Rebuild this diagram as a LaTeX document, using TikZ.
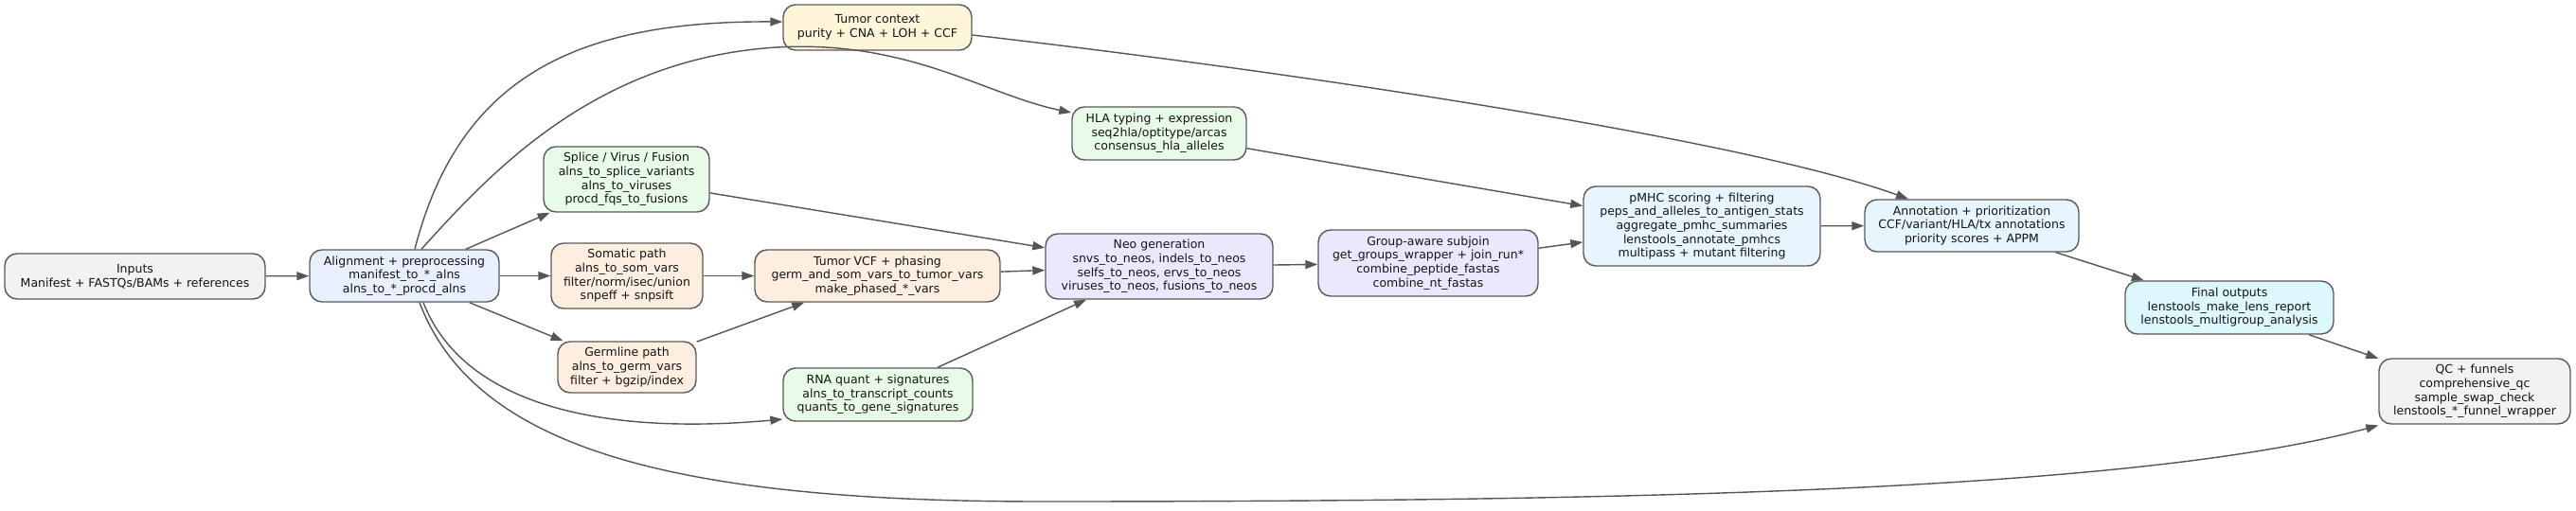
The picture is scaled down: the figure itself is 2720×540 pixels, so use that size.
\documentclass[tikz,border=0pt]{standalone}
\usepackage{fontspec}
\setmainfont{DejaVu Sans}
\usetikzlibrary{arrows.meta,calc}
\definecolor{edgec}{HTML}{555555}
\definecolor{boxborder}{HTML}{5A5A5A}
\definecolor{cgray}{HTML}{F2F2F2}
\definecolor{cblue}{HTML}{E8F0FF}
\definecolor{cgreen}{HTML}{E8FBE8}
\definecolor{cpeach}{HTML}{FDEEDF}
\definecolor{cyellow}{HTML}{FFF6DA}
\definecolor{cviolet}{HTML}{EDE7FD}
\definecolor{csky}{HTML}{E6F5FF}
\definecolor{ccyan}{HTML}{DCF8FD}
\begin{document}
\begin{tikzpicture}[x=1pt,y=-1pt,
  box/.style={draw=boxborder, line width=1.4pt, rounded corners=13pt, align=center,
    inner sep=2pt, font=\fontsize{12.5}{14.7}\selectfont, text=black!92},
  arr/.style={draw=edgec, line width=1.4pt, -{Triangle[length=13pt,width=9pt,fill=edgec]}},
]
\fill[white] (0,0) rectangle (2720,540);
\useasboundingbox (0,0) rectangle (2720,540);

\node[box, fill=cgray, minimum width=275pt, minimum height=48pt] (inputs) at (142.5,292)
  {Inputs\\Manifest + FASTQs/BAMs + references};
\node[box, fill=cblue, minimum width=200pt, minimum height=55pt] (align) at (427,291.5)
  {Alignment + preprocessing\\manifest\_to\_*\_alns\\alns\_to\_*\_procd\_alns};
\node[box, fill=cgreen, minimum width=175pt, minimum height=69pt] (splice) at (661.5,189.5)
  {Splice / Virus / Fusion\\alns\_to\_splice\_variants\\alns\_to\_viruses\\procd\_fqs\_to\_fusions};
\node[box, fill=cpeach, minimum width=160pt, minimum height=69pt] (som) at (662,291.5)
  {Somatic path\\alns\_to\_som\_vars\\filter/norm/isec/union\\snpeff + snpsift};
\node[box, fill=cpeach, minimum width=146pt, minimum height=54pt] (germ) at (662,388)
  {Germline path\\alns\_to\_germ\_vars\\filter + bgzip/index};
\node[box, fill=cyellow, minimum width=199pt, minimum height=48pt] (tctx) at (926.5,29)
  {Tumor context\\purity + CNA + LOH + CCF};
\node[box, fill=cpeach, minimum width=259pt, minimum height=55pt] (vcf) at (926.5,291.5)
  {Tumor VCF + phasing\\germ\_and\_som\_vars\_to\_tumor\_vars\\make\_phased\_*\_vars};
\node[box, fill=cgreen, minimum width=200pt, minimum height=56pt] (rna) at (927,417)
  {RNA quant + signatures\\alns\_to\_transcript\_counts\\quants\_to\_gene\_signatures};
\node[box, fill=cgreen, minimum width=184pt, minimum height=56pt] (hla) at (1224,141)
  {HLA typing + expression\\seq2hla/optitype/arcas\\consensus\_hla\_alleles};
\node[box, fill=cviolet, minimum width=240pt, minimum height=69pt] (neo) at (1224,281.5)
  {Neo generation\\snvs\_to\_neos, indels\_to\_neos\\selfs\_to\_neos, ervs\_to\_neos\\viruses\_to\_neos, fusions\_to\_neos};
\node[box, fill=cviolet, minimum width=232pt, minimum height=70pt] (grp) at (1508,278)
  {Group-aware subjoin\\get\_groups\_wrapper + join\_run*\\combine\_peptide\_fastas\\combine\_nt\_fastas};
\node[box, fill=csky, minimum width=250pt, minimum height=84pt] (pmhc) at (1797,239)
  {pMHC scoring + filtering\\peps\_and\_alleles\_to\_antigen\_stats\\aggregate\_pmhc\_summaries\\lenstools\_annotate\_pmhcs\\multipass + mutant filtering};
\node[box, fill=csky, minimum width=226pt, minimum height=55pt] (annot) at (2082,238.5)
  {Annotation + prioritization\\CCF/variant/HLA/tx annotations\\priority scores + APPM};
\node[box, fill=ccyan, minimum width=220pt, minimum height=56pt] (final) at (2354,325)
  {Final outputs\\lenstools\_make\_lens\_report\\lenstools\_multigroup\_analysis};
\node[box, fill=cgray, minimum width=202pt, minimum height=69pt] (qc) at (2613,413.5)
  {QC + funnels\\comprehensive\_qc\\sample\_swap\_check\\lenstools\_*\_funnel\_wrapper};

% straight connectors
\draw[arr] (inputs) -- (align);
\draw[arr] (align) -- (splice);
\draw[arr] (align) -- (som);
\draw[arr] (align) -- (germ);
\draw[arr] (splice) -- (neo);
\draw[arr] (som) -- (vcf);
\draw[arr] (germ) -- (vcf);
\draw[arr] (vcf) -- (neo);
\draw[arr] (rna) -- (neo);
\draw[arr] (hla) -- (pmhc);
\draw[arr] (neo) -- (grp);
\draw[arr] (grp) -- (pmhc);
\draw[arr] (pmhc) -- (annot);
\draw[arr] (annot) -- (final);
\draw[arr] (final) -- (qc);

% curved connectors
\draw[arr] ($(align.north)+(11,0)$) .. controls (485,80) and (610,22) .. ($(tctx.west)+(0,-6)$);
\draw[arr] ($(align.north)+(18,0)$) .. controls (520,180) and (630,62) .. (820,50)
  .. controls (960,42) and (1040,100) .. ($(hla.west)+(0,-22)$);
\draw[arr] ($(align.south)+(20,0)$) .. controls (490,430) and (640,460) .. ($(rna.west)+(0,26)$);
\draw[arr] ($(align.south)+(16,0)$) .. controls (500,470) and (700,530) .. (1100,530)
  .. controls (1700,530) and (2250,520) .. ($(qc.west)+(0,36)$);
\draw[arr] ($(tctx.east)+(0,8)$) .. controls (1400,80) and (1850,150) .. ($(annot.north)+(-67,0)$);
\end{tikzpicture}
\end{document}
